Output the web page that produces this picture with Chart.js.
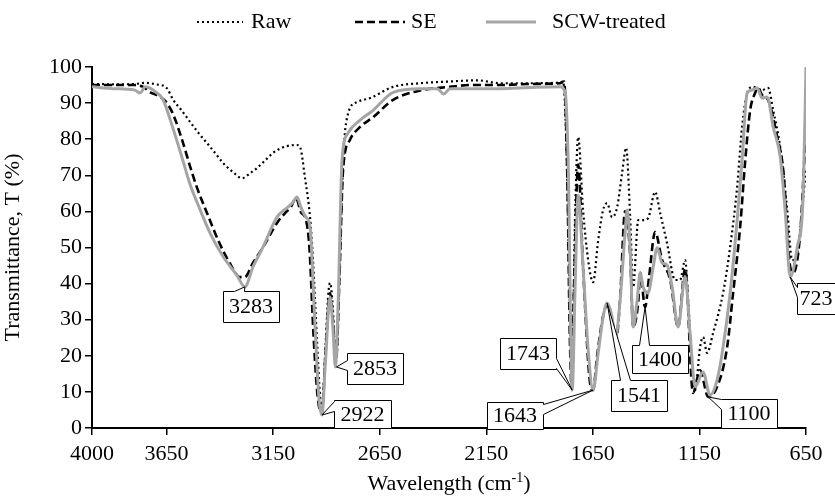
<!DOCTYPE html>
<html>
<head>
<meta charset="utf-8">
<script src="https://cdn.jsdelivr.net/npm/chart.js@4.4.1/dist/chart.umd.min.js"></script>
<style>
  html, body { margin: 0; padding: 0; background: #fff; }
  #wrap { width: 835px; height: 497px; }
</style>
</head>
<body>
<div id="wrap"><canvas id="ftir" width="835" height="497"></canvas></div>
<script>
// FTIR spectra: wavenumber (cm-1) and transmittance (%)
const rawWn = [4000, 3900, 3800, 3750, 3700, 3650, 3620, 3580, 3540, 3500, 3460, 3420, 3385, 3340, 3296, 3260, 3226, 3190, 3151, 3110, 3085, 3040, 3025, 3000, 2977, 2963, 2945, 2930, 2921, 2905, 2890, 2883, 2872, 2860, 2853, 2840, 2822, 2799, 2756, 2695, 2587, 2460, 2320, 2190, 2085, 1945, 1804, 1790, 1775, 1760, 1748, 1733, 1719, 1696, 1672, 1649, 1625, 1602, 1583, 1560, 1536, 1513, 1494, 1475, 1461, 1437, 1414, 1391, 1358, 1334, 1302, 1264, 1241, 1217, 1203, 1184, 1170, 1147, 1133, 1114, 1086, 1039, 1006, 973, 950, 926, 898, 856, 828, 804, 771, 738, 715, 691, 668, 650];
const rawT = [95.3, 95.2, 95.3, 95.6, 95.2, 94.2, 91, 88, 84.8, 81.7, 78.9, 76, 73.4, 71, 69.2, 70.5, 72, 74, 76.2, 77.6, 78.1, 78.4, 78, 69, 58.4, 46.5, 25, 9, 5.5, 22, 38, 40.2, 35, 22, 19.5, 40, 74, 87, 90.3, 91.4, 94.5, 95.5, 96, 96.3, 95.5, 95.5, 95.7, 96, 80, 40, 14, 60, 80.6, 60.4, 46.5, 40.4, 52, 60.4, 62.3, 58.4, 61.2, 70.6, 77.6, 58.4, 39, 57.6, 57.6, 58.1, 65.4, 59.5, 51.2, 41, 41, 46.5, 35.5, 17, 10.5, 22.4, 25.2, 20.8, 26.3, 37.4, 50.1, 66.8, 83.4, 92.8, 94.5, 93.6, 94.2, 88, 77.8, 60.4, 46.5, 48.5, 60.4, 72];

const seWn = [4000, 3900, 3800, 3760, 3727, 3695, 3657, 3620, 3573, 3540, 3507, 3460, 3408, 3352, 3305, 3283, 3245, 3198, 3132, 3090, 3067, 3043, 3020, 2996, 2980, 2960, 2940, 2921, 2905, 2883, 2870, 2855, 2840, 2822, 2790, 2742, 2681, 2587, 2460, 2320, 2225, 2085, 1945, 1804, 1785, 1770, 1758, 1750, 1738, 1719, 1696, 1663, 1649, 1630, 1602, 1583, 1560, 1541, 1522, 1499, 1475, 1461, 1437, 1428, 1405, 1386, 1358, 1325, 1287, 1250, 1217, 1180, 1147, 1109, 1067, 1020, 992, 959, 935, 912, 889, 875, 856, 828, 785, 757, 724, 710, 677, 658, 650];
const seT = [95, 95, 95, 94.5, 93, 92.2, 90.6, 87, 79, 72.5, 66.5, 59.5, 52, 45.5, 41.8, 41.8, 45.7, 50, 56.8, 59.8, 61.2, 63.7, 59.8, 57.6, 50, 25, 8, 4.2, 20, 37.4, 30, 18.8, 40, 71.5, 79.8, 83.4, 86.1, 90.9, 93.5, 94.5, 95, 95, 95.3, 95.5, 96, 70, 25, 12, 40, 73, 44.6, 12.4, 10.5, 20, 31, 34, 30, 24.5, 36, 60, 48, 28, 35, 43, 33.5, 42, 54.3, 46.5, 41, 28, 44, 9.7, 16, 8.6, 11.4, 22.4, 37.4, 55.7, 74.2, 88, 92.8, 94.2, 92.2, 90.9, 80.6, 71.5, 44.6, 43, 54, 74, 82];

const scwWn = [4000, 3900, 3800, 3775, 3750, 3695, 3667, 3620, 3578, 3540, 3493, 3446, 3385, 3320, 3283, 3245, 3198, 3132, 3085, 3060, 3038, 3020, 2996, 2977, 2955, 2935, 2921, 2905, 2883, 2870, 2858, 2845, 2827, 2799, 2742, 2681, 2587, 2460, 2380, 2350, 2320, 2185, 2085, 1945, 1804, 1780, 1766, 1747, 1733, 1719, 1696, 1672, 1649, 1625, 1602, 1583, 1560, 1546, 1522, 1499, 1489, 1475, 1461, 1442, 1428, 1414, 1391, 1367, 1348, 1325, 1302, 1278, 1250, 1217, 1194, 1170, 1133, 1100, 1067, 1039, 1006, 973, 950, 926, 903, 879, 856, 832, 804, 771, 748, 724, 691, 663, 650];
const scwT = [94.5, 94, 93.6, 92.8, 94.5, 92.8, 91, 83, 75, 67.5, 60.5, 54, 47.5, 42.3, 39.1, 44.6, 50.1, 58.4, 61, 62.3, 64, 61.2, 58.4, 55.7, 30, 8, 3.6, 18, 36.3, 28, 16.9, 35, 74, 81.7, 85.3, 88, 93, 94, 94, 92.5, 94, 94, 94, 94.3, 94.5, 93, 74, 10.5, 40, 64.5, 44.6, 21.6, 10.5, 20.8, 30.7, 34.6, 30.7, 24.4, 35.5, 54, 60.4, 49.3, 28, 35.5, 43, 39, 37.4, 44.6, 49.9, 45.7, 45.2, 39, 28, 42, 26.3, 11.4, 15.5, 9.1, 13.3, 22.4, 37.4, 57.6, 74.2, 92.8, 93.6, 94.2, 91.4, 91.7, 83.4, 75.1, 60.4, 41.8, 50.1, 65, 100];

const xTicks = [4000, 3650, 3150, 2650, 2150, 1650, 1150, 650];

// peak labels
const calloutText = ['3283', '2922', '2853', '1743', '1643', '1541', '1400', '1100', '723'];
const calloutWn = [3283, 2921, 2853, 1747, 1649, 1583, 1405, 1109, 724];
const calloutT = [39.1, 3.6, 16.9, 10.5, 10.5, 34.6, 33.5, 8.6, 41.8];

// callout box: left, top, width, height, side the pointer leaves from, offset along that side
const calloutBoxes = [
    [223, 291, 56, 31, 'top', 16],
    [334, 400, 57, 28, 'left', 6],
    [347, 353, 56, 31, 'left', 12],
    [500, 338, 56, 31, 'right', 25],
    [487, 402, 56, 27, 'right', 7],
    [611, 380, 56, 31, 'top', 14],
    [632, 345, 56, 28, 'top', 12],
    [721, 399, 56, 29, 'left', 5],
    [797, 283, 38, 31, 'left', 9]
];

const FONT_FAMILY = '"Liberation Serif", "Times New Roman", serif';
const FONT_SIZE = 22;

// legend sample line start/end and text x, in px
const legendPos = [[197, 243, 251], [355, 405, 411], [486, 536, 552]];

function toPoints(wn, t) {
    return wn.map((w, i) => ({ x: w, y: t[i] }));
}

const decorPlugin = {
    id: 'decor',
    afterDraw(chart) {
        const ctx = chart.ctx;
        const xs = chart.scales.x, ys = chart.scales.y;
        ctx.save();
        ctx.font = FONT_SIZE + 'px ' + FONT_FAMILY;
        ctx.fillStyle = '#000';

        // callouts
        calloutText.forEach((txt, i) => {
            const [bx, by, bw, bh, side, off] = calloutBoxes[i];
            const px = xs.getPixelForValue(calloutWn[i]);
            const py = ys.getPixelForValue(calloutT[i]);
            const h = 5;
            const L = bx + 0.5, T = by + 0.5, R = bx + bw + 0.5, B = by + bh + 0.5;
            ctx.beginPath();
            ctx.moveTo(L, T);
            if (side === 'top') {
                ctx.lineTo(L + off - h, T); ctx.lineTo(px, py); ctx.lineTo(L + off + h, T);
            }
            ctx.lineTo(R, T);
            if (side === 'right') {
                ctx.lineTo(R, T + off - h); ctx.lineTo(px, py); ctx.lineTo(R, T + off + h);
            }
            ctx.lineTo(R, B);
            ctx.lineTo(L, B);
            if (side === 'left') {
                ctx.lineTo(L, T + off + h); ctx.lineTo(px, py); ctx.lineTo(L, T + off - h);
            }
            ctx.closePath();
            ctx.fillStyle = '#fff';
            ctx.fill();
            ctx.lineWidth = 1;
            ctx.strokeStyle = '#000';
            ctx.stroke();
            ctx.fillStyle = '#000';
            ctx.textAlign = 'center';
            ctx.textBaseline = 'middle';
            ctx.fillText(txt, bx + bw / 2, by + bh / 2 + 1);
        });

        // legend
        ctx.textAlign = 'left';
        ctx.textBaseline = 'middle';
        chart.data.datasets.forEach((ds, i) => {
            const [x1, x2, tx] = legendPos[i];
            ctx.beginPath();
            ctx.setLineDash(ds.borderDash || []);
            ctx.lineWidth = ds.borderWidth;
            ctx.strokeStyle = ds.borderColor;
            ctx.moveTo(x1, 22);
            ctx.lineTo(x2, 22);
            ctx.stroke();
            ctx.setLineDash([]);
            ctx.fillStyle = '#000';
            ctx.fillText(ds.label, tx, 22);
        });

        // x axis title with superscript
        const main = 'Wavelength (cm';
        const sup = '-1';
        const end = ')';
        const supFont = '14px ' + FONT_FAMILY;
        const wMain = ctx.measureText(main).width;
        const wEnd = ctx.measureText(end).width;
        ctx.font = supFont;
        const wSup = ctx.measureText(sup).width;
        const total = wMain + wSup + wEnd;
        const cx = (chart.chartArea.left + chart.chartArea.right) / 2;
        let x0 = cx - total / 2;
        const base = 490;
        ctx.textBaseline = 'alphabetic';
        ctx.font = FONT_SIZE + 'px ' + FONT_FAMILY;
        ctx.fillText(main, x0, base);
        ctx.font = supFont;
        ctx.fillText(sup, x0 + wMain, base - 8);
        ctx.font = FONT_SIZE + 'px ' + FONT_FAMILY;
        ctx.fillText(end, x0 + wMain + wSup, base);
        ctx.restore();
    }
};

const ctx = document.getElementById('ftir').getContext('2d');
new Chart(ctx, {
    type: 'line',
    data: {
        datasets: [
            {
                label: 'Raw',
                data: toPoints(rawWn, rawT),
                borderColor: '#000',
                borderWidth: 2.2,
                borderDash: [2, 3],
                order: 3
            },
            {
                label: 'SE',
                data: toPoints(seWn, seT),
                borderColor: '#000',
                borderWidth: 2.6,
                borderDash: [8, 4],
                order: 2
            },
            {
                label: 'SCW-treated',
                data: toPoints(scwWn, scwT),
                borderColor: '#a5a5a5',
                borderWidth: 3,
                order: 1
            }
        ]
    },
    options: {
        responsive: false,
        animation: false,
        devicePixelRatio: 1,
        layout: { padding: { top: 67, right: 29, left: 0, bottom: 0 } },
        elements: {
            point: { radius: 0 },
            line: { cubicInterpolationMode: 'monotone', fill: false }
        },
        plugins: {
            legend: { display: false },
            tooltip: { enabled: false }
        },
        scales: {
            x: {
                type: 'linear',
                reverse: true,
                min: 650,
                max: 4000,
                afterBuildTicks: axis => { axis.ticks = xTicks.map(v => ({ value: v })); },
                afterFit: axis => { axis.height = 69; },
                border: { display: true, color: '#000', width: 2 },
                grid: { drawOnChartArea: false, drawTicks: true, tickLength: 7, color: '#000', lineWidth: 1.5 },
                ticks: {
                    autoSkip: false,
                    maxRotation: 0,
                    padding: 6,
                    color: '#000',
                    font: { family: FONT_FAMILY, size: FONT_SIZE },
                    callback: v => String(v)
                }
            },
            y: {
                min: 0,
                max: 100,
                afterFit: axis => { axis.width = 92; },
                border: { display: true, color: '#000', width: 2 },
                grid: { drawOnChartArea: false, drawTicks: true, tickLength: 7, color: '#000', lineWidth: 1.5 },
                ticks: {
                    stepSize: 10,
                    padding: 3,
                    color: '#000',
                    font: { family: FONT_FAMILY, size: FONT_SIZE }
                },
                title: {
                    display: true,
                    text: 'Transmittance, T (%)',
                    color: '#000',
                    padding: 0,
                    font: { family: FONT_FAMILY, size: FONT_SIZE }
                }
            }
        }
    },
    plugins: [decorPlugin]
});
</script>
</body>
</html>
